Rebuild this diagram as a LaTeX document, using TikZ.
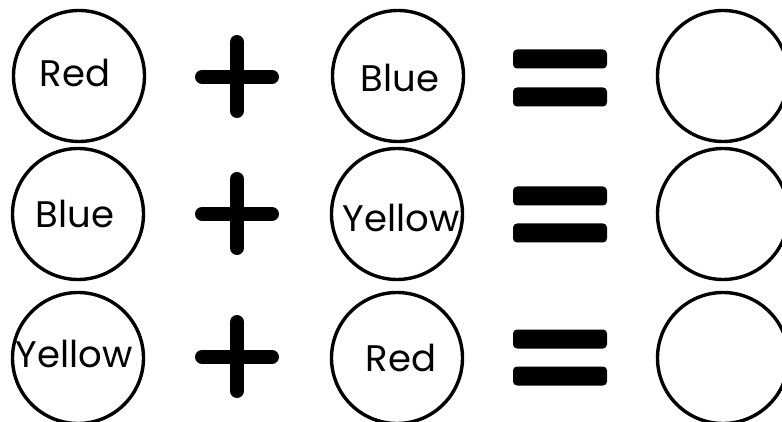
\documentclass[tikz,border=0pt]{standalone}
\usepackage{fontspec}
\setmainfont{Poppins}
\begin{document}
\begin{tikzpicture}[x=1pt,y=-1pt,
  ball/.style={circle,draw=black,line width=3.4pt,minimum size=131pt,inner sep=0pt},
  word/.style={inner sep=0pt,font=\fontsize{37}{42}\selectfont},
  plusbar/.style={line width=14pt,line cap=round},
  eqbar/.style={fill=black,rounded corners=4pt}]
\useasboundingbox (0,0) rectangle (782,422);
% row 1
\node[ball] (a1) at (79,76) {};
\node[ball] (b1) at (398,76) {};
\node[ball] (c1) at (723,76) {};
% row 2
\node[ball] (a2) at (78,214) {};
\node[ball] (b2) at (397,214) {};
\node[ball] (c2) at (723,214) {};
% row 3
\node[ball] (a3) at (78,358) {};
\node[ball] (b3) at (397,358) {};
\node[ball] (c3) at (723,358) {};
% words
\node[word] (ta1) at (75,73) {Red};
\node[word] (tb1) at (400,78) {Blue};
\node[word] (ta2) at (75,214) {Blue};
\node[word] (tb2) at (401,218) {Yellow};
\node[word] (ta3) at (74,354) {Yellow};
\node[word] (tb3) at (401,358) {Red};
% plus signs
\foreach \y in {77,214,357}{
  \draw[plusbar] (202,\y) -- (272,\y);
  \draw[plusbar] (237,\y-35) -- (237,\y+34);
}
% equals signs
\foreach \t/\b in {59/97,196/233,339/376}{
  \fill[eqbar] (513,\t-9.5) rectangle (607,\t+9.5);
  \fill[eqbar] (513,\b-9.5) rectangle (607,\b+9.5);
}
\end{tikzpicture}
\end{document}
